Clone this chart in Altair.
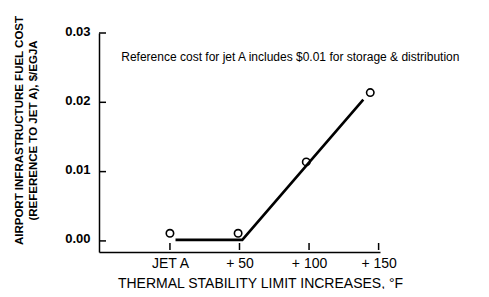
import altair as alt
import pandas as pd

# data
x_ticks = [0, 50, 100, 150]
x_labels = ["JET A", "+ 50", "+ 100", "+ 150"]
y_ticks = [0.0, 0.01, 0.02, 0.03]

point_x = [0, 49, 98, 144]
point_y = [0.0011, 0.0011, 0.0114, 0.0214]

line_x = [4, 52, 139]
line_y = [0.00015, 0.00015, 0.0204]

note_text = "Reference cost for jet A includes $0.01 for storage & distribution"
note_x = [-35]
note_y = [0.0265]

FONT = "Liberation Sans Narrow, Liberation Sans, Arial"

xscale = alt.Scale(domain=[-51, 151], nice=False, zero=False)
yscale = alt.Scale(domain=[-0.0016, 0.03], nice=False, zero=False)

label_expr = " : ".join(
    [f"datum.value == {v} ? '{l}'" for v, l in zip(x_ticks, x_labels)]
) + " : ''"

pts = pd.DataFrame({"x": point_x, "y": point_y})
ln = pd.DataFrame({"x": line_x, "y": line_y})
xt = pd.DataFrame({"x": x_ticks})
yt = pd.DataFrame({"y": y_ticks})
note = pd.DataFrame({"x": note_x, "y": note_y, "t": [note_text]})

xaxis = alt.Axis(
    values=x_ticks, labelExpr=label_expr, ticks=False, grid=False,
    domainColor="black", domainWidth=1.5, labelFontSize=14, labelFont="Liberation Sans",
    labelColor="black", labelPadding=4,
    title="THERMAL STABILITY LIMIT INCREASES, °F", titleFont=FONT,
    titleFontSize=14, titleFontWeight="normal", titleColor="black",
    titleX=161, titleY=35, titleBaseline="alphabetic", titleAlign="center",
)
yaxis = alt.Axis(
    values=y_ticks, format=".2f", ticks=False, grid=False,
    domainColor="black", domainWidth=1.5, labelFontSize=13, labelFont="Liberation Sans",
    labelFontWeight="bold", labelColor="black", labelPadding=9, labelOffset=-2,
    title=["AIRPORT INFRASTRUCTURE FUEL COST", "(REFERENCE TO JET A), $/EGJA"],
    titleFont=FONT, titleFontSize=11.5, titleFontWeight="bold", titleColor="black",
    titleY=97, titleX=-75, titleLineHeight=14,
)

line = alt.Chart(ln).mark_line(color="black", strokeWidth=2.6).encode(
    x=alt.X("x:Q", scale=xscale, axis=xaxis),
    y=alt.Y("y:Q", scale=yscale, axis=yaxis),
)
points = alt.Chart(pts).mark_point(
    shape="circle", filled=False, stroke="black", strokeWidth=1.6, size=55, opacity=1
).encode(x=alt.X("x:Q", scale=xscale), y=alt.Y("y:Q", scale=yscale))

xtick_marks = alt.Chart(xt).mark_rule(color="black", strokeWidth=1.5).encode(
    x=alt.X("x:Q", scale=xscale), y=alt.value(210), y2=alt.value(217)
)
ytick_marks = alt.Chart(yt).mark_rule(color="black", strokeWidth=1.5).encode(
    y=alt.Y("y:Q", scale=yscale), x=alt.value(0), x2=alt.value(7)
)
note_mark = alt.Chart(note).mark_text(
    align="left", baseline="middle", font=FONT, fontSize=12, color="black"
).encode(x=alt.X("x:Q", scale=xscale), y=alt.Y("y:Q", scale=yscale), text="t:N")

chart = alt.layer(line, xtick_marks, ytick_marks, points, note_mark).properties(
    width=281, height=219,
    autosize=alt.AutoSizeParams(type="none"),
    padding={"left": 91, "top": 25, "right": 90, "bottom": 37},
    background="white",
).configure_view(stroke=None)

chart.save("out.html", embed_options={"renderer": "svg", "actions": False})
